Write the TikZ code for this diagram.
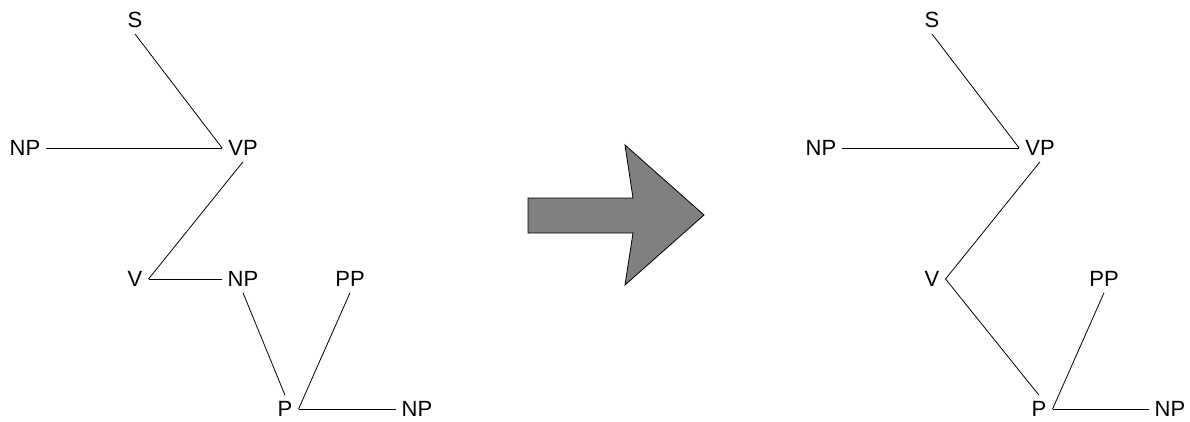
\documentclass[tikz,border=0pt]{standalone}
\usepackage{fontspec}
\setmainfont{Liberation Sans}
\usepackage{tikz}

\begin{document}
\begin{tikzpicture}[
    x=1pt, y=-1pt,
    cat/.style={
        font=\fontsize{22}{26}\selectfont,
        inner xsep=6pt,
        inner ysep=6pt
    },
    branca/.style={
        line width=0.8pt,
        black
    }
]

\useasboundingbox (0,0) rectangle (1190,422);

% ---------------- ABANS ----------------

% Nodes
\node[cat] (s)   at (135,20)  {S};
\node[cat] (np1) at (25,148)  {NP};
\node[cat] (vp)  at (243,148) {VP};
\node[cat] (v)   at (135,279) {V};
\node[cat] (np2) at (243,279) {NP};
\node[cat] (pp)  at (350,279) {PP};
\node[cat] (p)   at (285,409) {P};
\node[cat] (np3) at (417,409) {NP};

% Branques
\draw[branca] (s.south) -- (vp.west);
\draw[branca] (np1.east) -- (vp.west);
\draw[branca] (vp.south) -- (v.east);
\draw[branca] (v.east) -- (np2.west);
\draw[branca] (np2.south) -- (p.north);
\draw[branca] (pp.south) -- (p.east);
\draw[branca] (p.east) -- (np3.west);


% ---------------- FLETXA ----------------

\draw[
    line width=0.8pt,
    fill=gray
] (528,198) -- (633,198) -- (625,145) -- (704,215)
    -- (625,285) -- (633,233) -- (528,233) -- cycle;


% ---------------- DESPRÉS ----------------

% Nodes
\node[cat] (rs)   at (932,20)   {S};
\node[cat] (rnp1) at (821,148)  {NP};
\node[cat] (rvp)  at (1040,148) {VP};
\node[cat] (rv)   at (932,279)  {V};
\node[cat] (rpp)  at (1104,279) {PP};
\node[cat] (rp)   at (1039,409) {P};
\node[cat] (rnp3) at (1170,409) {NP};

% Branques
\draw[branca] (rs.south) -- (rvp.west);
\draw[branca] (rnp1.east) -- (rvp.west);
\draw[branca] (rvp.south) -- (rv.east);
\draw[branca] (rv.east) -- (rp.north);
\draw[branca] (rpp.south) -- (rp.east);
\draw[branca] (rp.east) -- (rnp3.west);

\end{tikzpicture}
\end{document}
